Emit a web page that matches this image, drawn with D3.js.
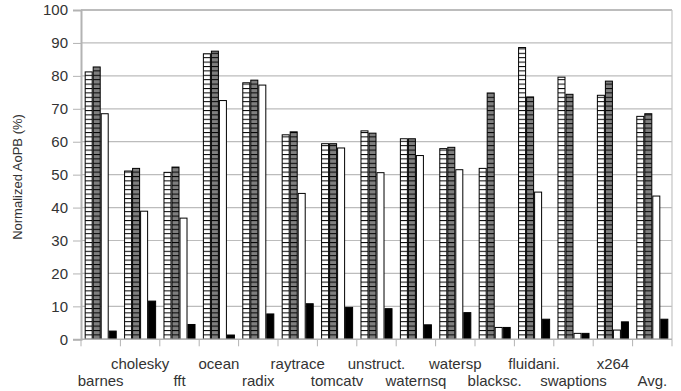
<!DOCTYPE html>
<html>
<head>
<meta charset="utf-8">
<script src="https://cdn.jsdelivr.net/npm/d3@7"></script>
<style>
  html, body { margin: 0; padding: 0; background: #fff; }
  svg { display: block; font-family: "Liberation Sans", Arial, sans-serif; }
</style>
</head>
<body>
<svg id="chart" width="681" height="391"></svg>
<script>
// Benchmarks along the x axis
const categories = ["barnes", "cholesky", "fft", "ocean", "radix", "raytrace", "tomcatv",
  "unstruct.", "waternsq", "watersp", "blacksc.", "fluidani.", "swaptions", "x264", "Avg."];

// Normalized AoPB (%) per benchmark, one array per bar style
const stripedValues = [81.2, 51.1, 50.7, 86.7, 77.9, 62.1, 59.4, 63.3, 60.9, 57.9, 51.9, 88.6, 79.6, 74.1, 67.7];
const grayValues    = [82.7, 51.9, 52.3, 87.5, 78.7, 63.0, 59.4, 62.6, 60.9, 58.3, 74.8, 73.6, 74.4, 78.4, 68.5];
const whiteValues   = [68.5, 38.9, 36.8, 72.5, 77.2, 44.3, 58.1, 50.6, 55.8, 51.5, 3.6, 44.7, 1.8, 2.8, 43.5];
const blackValues   = [2.5, 11.6, 4.5, 1.3, 7.7, 10.8, 9.7, 9.3, 4.4, 8.1, 3.6, 6.1, 1.8, 5.3, 6.1];

const seriesKeys = ["striped", "gray", "white", "black"];
const seriesValues = [stripedValues, grayValues, whiteValues, blackValues];

const yTicks = [0, 10, 20, 30, 40, 50, 60, 70, 80, 90, 100];
const yTitle = "Normalized AoPB (%)";

const svg = d3.select("#chart");
const plotLeft = 81, plotRight = 672, plotTop = 10, plotBottom = 339.3;

const x0 = d3.scaleBand().domain(categories).range([plotLeft, plotRight]).padding(0);
const x1 = d3.scaleBand().domain(seriesKeys).range([0, x0.bandwidth()])
  .paddingInner(0).paddingOuter(0.46);
const y = d3.scaleLinear().domain([0, 100]).range([plotBottom, plotTop]);

// Fill patterns: horizontal black rules over white / gray
const defs = svg.append("defs");
function stripePattern(id, bg) {
  const p = defs.append("pattern").attr("id", id)
    .attr("patternUnits", "userSpaceOnUse")
    .attr("width", 10).attr("height", 4.4);
  p.append("rect").attr("width", 10).attr("height", 4.4).attr("fill", bg);
  p.append("rect").attr("width", 10).attr("height", 1).attr("fill", "#000");
}
stripePattern("pat-striped", "#fff");
stripePattern("pat-gray", "#7f7f7f");

const fills = { striped: "url(#pat-striped)", gray: "url(#pat-gray)", white: "#fff", black: "#000" };

// Horizontal gridlines
svg.append("g").selectAll("line").data(yTicks.filter(d => d > 0))
  .join("line")
  .attr("x1", plotLeft).attr("x2", plotRight)
  .attr("y1", d => y(d)).attr("y2", d => y(d))
  .attr("stroke", "#bcbcbc")
  .attr("stroke-width", d => d === 100 ? 2 : 1.2);

// Right border of the plot area
svg.append("line").attr("x1", plotRight).attr("x2", plotRight).attr("y1", plotTop).attr("y2", plotBottom)
  .attr("stroke", "#c4c4c4").attr("stroke-width", 1.2);

// Y axis
const yAxis = svg.append("g").attr("transform", `translate(${plotLeft},0)`)
  .call(d3.axisLeft(y).tickValues(yTicks).tickSize(8).tickPadding(5));
yAxis.select(".domain").attr("stroke", "#b3b3b3").attr("stroke-width", 2);
yAxis.selectAll(".tick line").attr("stroke", "#b3b3b3");
yAxis.selectAll(".tick text").attr("fill", "#333").style("font-size", "15px")
  .style("font-family", "'Liberation Sans', Arial, sans-serif");

// Bars
const groups = svg.append("g").selectAll("g").data(categories).join("g")
  .attr("transform", d => `translate(${x0(d)},0)`);
groups.selectAll("rect")
  .data((c, i) => seriesKeys.map((k, j) => ({ key: k, value: seriesValues[j][i] })))
  .join("rect")
  .attr("x", d => x1(d.key) + 0.5)
  .attr("width", x1.bandwidth() - 1)
  .attr("y", d => y(d.value))
  .attr("height", d => y(0) - y(d.value))
  .attr("fill", d => fills[d.key])
  .attr("stroke", "#000").attr("stroke-width", 1);

// X axis line with ticks at category boundaries
svg.append("line").attr("x1", plotLeft).attr("x2", plotRight).attr("y1", plotBottom).attr("y2", plotBottom)
  .attr("stroke", "#b3b3b3").attr("stroke-width", 1.5);
const boundaries = categories.map(c => x0(c)).concat([plotRight]);
svg.append("g").selectAll("line").data(boundaries).join("line")
  .attr("x1", d => d).attr("x2", d => d)
  .attr("y1", plotBottom).attr("y2", plotBottom + 7)
  .attr("stroke", "#b3b3b3").attr("stroke-width", 1);

// Category labels in two staggered rows
svg.append("g").selectAll("text").data(categories).join("text")
  .attr("x", d => x0(d) + x0.bandwidth() / 2)
  .attr("y", (d, i) => i % 2 === 0 ? 386 : 369)
  .attr("text-anchor", "middle")
  .attr("fill", "#333")
  .style("font-size", "15px")
  .text(d => d);

// Y axis title
svg.append("text")
  .attr("transform", "translate(22,177) rotate(-90)")
  .attr("text-anchor", "middle")
  .attr("fill", "#333")
  .style("font-size", "13px")
  .text(yTitle);
</script>
</body>
</html>
